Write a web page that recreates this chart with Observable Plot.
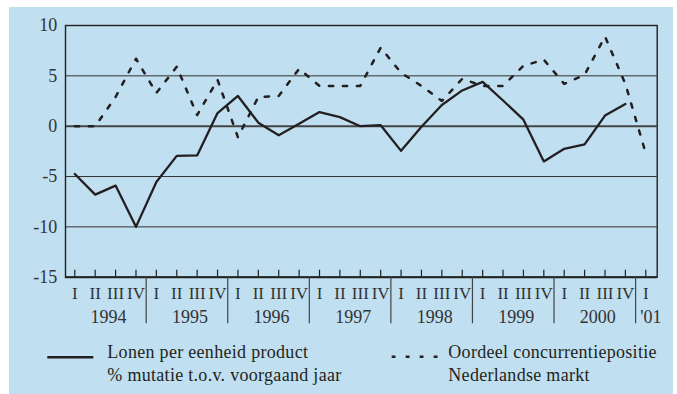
<!DOCTYPE html>
<html><head><meta charset="utf-8">
<script src="https://cdn.jsdelivr.net/npm/d3@7"></script>
<script src="https://cdn.jsdelivr.net/npm/@observablehq/plot@0.6"></script>
<style>
html,body{margin:0;padding:0;background:#fff;width:677px;height:394px;overflow:hidden;position:relative;}
#panel{position:absolute;left:9px;top:7px;width:664px;height:387px;background:#c0dff0;}
#chart{position:absolute;left:0;top:0;}
.leg{position:absolute;font-family:"Liberation Serif",serif;font-size:18px;line-height:23.5px;color:#231f20;white-space:nowrap;letter-spacing:0.3px;}
.sample{position:absolute;}
</style></head><body>
<div id="panel"></div>
<div id="chart"></div>
<div id="legend"></div>
<script>
// ---- data ----
const quarterLabels = ["I","II","III","IV","I","II","III","IV","I","II","III","IV","I","II","III","IV",
  "I","II","III","IV","I","II","III","IV","I","II","III","IV","I"];
const yearLabels = ["1994","1995","1996","1997","1998","1999","2000","'01"];
const lonen = [-4.75,-6.8,-5.9,-10.0,-5.55,-2.95,-2.9,1.3,3.0,0.35,-0.9,0.25,1.4,0.9,0.0,0.1,
  -2.45,-0.05,2.1,3.55,4.4,2.55,0.65,-3.5,-2.25,-1.8,1.05,2.2];
const oordeel = [0,0,2.9,6.7,3.3,5.9,1.1,4.6,-1.1,2.9,3.0,5.7,4.0,4.0,4.0,7.8,5.3,4.0,2.5,4.7,
  4.0,4.0,6.0,6.6,4.2,5.1,8.9,4.2,-2.7];
const yTicks = [10,5,0,-5,-10,-15];
const gridValues = [5,-5,-10];
const seriesNames = [
  ["Lonen per eenheid product","% mutatie t.o.v. voorgaand jaar"],
  ["Oordeel concurrentiepositie","Nederlandse markt"]
];

const ink = "#231f20";
const qIdx = quarterLabels.map((_, i) => i);
const lonenData = lonen.map((v, i) => ({i, v}));
const oordeelData = oordeel.map((v, i) => ({i, v}));
const yearData = yearLabels.map((t, k) => ({t, x: k < 7 ? 4 * k + 1.65 : 28.25}));
const separators = yearLabels.slice(0, 7).map((_, k) => 4 * k + 3.5);

const chart = Plot.plot({
  width: 677,
  height: 330,
  marginLeft: 65,
  marginRight: 20.3,
  marginTop: 25,
  marginBottom: 53.3,
  style: {background: "transparent", fontFamily: "'Liberation Serif', serif", overflow: "visible"},
  x: {type: "linear", domain: [-0.456, 28.56], axis: null},
  y: {type: "linear", domain: [-15, 10], label: null},
  marks: [
    Plot.ruleY(gridValues, {stroke: "#333", strokeWidth: 1}),
    Plot.ruleY([0], {stroke: "#444", strokeWidth: 2}),
    Plot.frame({stroke: "#222", strokeWidth: 1.4}),
    Plot.ruleY([-15], {stroke: "#222", strokeWidth: 2}),
    Plot.ruleX(qIdx, {x: d => d, y1: -15, y2: -15, insetBottom: 7, stroke: "#222", strokeWidth: 1.2}),
    Plot.ruleX(separators, {x: d => d, y1: -15, y2: -15, insetTop: 46.6, stroke: "#444", strokeWidth: 1.2}),
    Plot.axisY(yTicks, {tickSize: 0, tickPadding: 8.3, fontSize: 18, fill: "#333", label: null, tickFormat: d => String(d)}),
    Plot.text(quarterLabels, {x: (d, i) => i, y: -15, dy: 16.6, text: d => d, fontSize: 17, fill: "#333"}),
    Plot.text(yearData, {x: "x", y: -15, dy: 40, text: "t", fontSize: 18, fill: "#333"}),
    Plot.line(oordeelData, {x: "i", y: "v", stroke: ink, strokeWidth: 2.5, strokeDasharray: "4.3,9.7"}),
    Plot.line(lonenData, {x: "i", y: "v", stroke: ink, strokeWidth: 2.3})
  ]
});
document.getElementById("chart").appendChild(chart);

// ---- legend ----
const legend = d3.select("#legend");
const legendPos = [{sx1: 47.3, sx2: 93.3, sy: 357.3, tx: 107.3, dash: null},
                   {sx1: 391.7, sx2: 437.5, sy: 356.7, tx: 448.3, dash: "3.8,10.2"}];
seriesNames.forEach((lines, k) => {
  const p = legendPos[k];
  const svg = legend.append("svg").attr("class", "sample")
    .style("left", "0px").style("top", "0px")
    .attr("width", 677).attr("height", 394);
  svg.append("line").attr("x1", p.sx1).attr("x2", p.sx2).attr("y1", p.sy).attr("y2", p.sy)
    .attr("stroke", ink).attr("stroke-width", 2.6).attr("stroke-dasharray", p.dash);
  legend.append("div").attr("class", "leg")
    .style("left", p.tx + "px").style("top", "340.8px")
    .html(lines.join("<br>"));
});
</script>
</body></html>
